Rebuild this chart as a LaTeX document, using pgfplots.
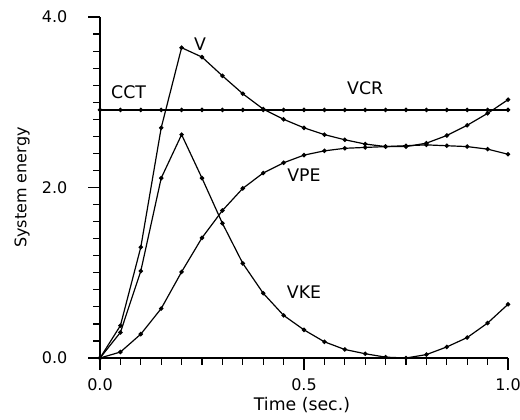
\documentclass[border=0pt]{standalone}
\usepackage{pgfplots}
\pgfplotsset{compat=1.18}
\usepackage{fontspec}
\setmainfont{DejaVu Sans}

\pgfplotsset{ser/.style={black, line width=0.9pt, mark=*, mark size=1.2pt}}

\begin{document}
\begin{tikzpicture}
\path[use as bounding box] (-75pt,-45.75pt) rectangle (315pt,268.5pt);
\begin{axis}[
    at={(0pt,0pt)}, anchor=south west,
    scale only axis,
    width=306pt, height=255.75pt,
    xmin=0, xmax=1, ymin=0, ymax=4,
    axis x line=bottom, axis y line=left,
    axis line style={-, line width=1.1pt},
    xtick={0,0.5,1}, ytick={0,2,4},
    xticklabels={0.0,0.5,1.0}, yticklabels={0.0,2.0,4.0},
    tick align=outside,
    major tick length=9pt,
    tick style={black, line width=0.9pt},
    xticklabel style={font=\fontsize{12}{14}\selectfont, yshift=-3pt},
    yticklabel style={font=\fontsize{12}{14}\selectfont, xshift=-12pt},
    xlabel={Time (sec.)},
    xlabel style={font=\fontsize{13}{15}\selectfont, at={(axis description cs:0.495,-0.137)}, anchor=center},
    ylabel={System energy},
    ylabel style={font=\fontsize{12}{14}\selectfont, at={(axis description cs:-0.191,0.5)}, anchor=center},
    clip=false,
]
% tick marks (major 9pt, minor 5pt)
\pgfplotsinvokeforeach{0,0.5,1}{
  \draw[line width=0.9pt] (axis cs:#1,0) -- ([yshift=-9pt]axis cs:#1,0);}
\pgfplotsinvokeforeach{0.05,0.10,0.15,0.20,0.25,0.30,0.35,0.40,0.45,0.55,0.60,0.65,0.70,0.75,0.80,0.85,0.90,0.95}{
  \draw[line width=0.9pt] (axis cs:#1,0) -- ([yshift=-5pt]axis cs:#1,0);}
\pgfplotsinvokeforeach{0,2,4}{
  \draw[line width=0.9pt] (axis cs:0,#1) -- ([xshift=-9pt]axis cs:0,#1);}
\pgfplotsinvokeforeach{0.2,0.4,0.6,0.8,1.0,1.2,1.4,1.6,1.8,2.2,2.4,2.6,2.8,3.0,3.2,3.4,3.6,3.8}{
  \draw[line width=0.9pt] (axis cs:0,#1) -- ([xshift=-5pt]axis cs:0,#1);}
% VCR
\addplot[ser] coordinates {
(0.00,2.91) (0.05,2.91) (0.10,2.91) (0.15,2.91) (0.20,2.91) (0.25,2.91) (0.30,2.91)
(0.35,2.91) (0.40,2.91) (0.45,2.91) (0.50,2.91) (0.55,2.91) (0.60,2.91) (0.65,2.91)
(0.70,2.91) (0.75,2.91) (0.80,2.91) (0.85,2.91) (0.90,2.91) (0.95,2.91) (1.00,2.91)};
% V
\addplot[ser] coordinates {
(0.00,0.00) (0.05,0.38) (0.10,1.30) (0.15,2.70) (0.20,3.64) (0.25,3.53) (0.30,3.31)
(0.35,3.10) (0.40,2.92) (0.45,2.80) (0.50,2.70) (0.55,2.62) (0.60,2.56) (0.65,2.51)
(0.70,2.48) (0.75,2.48) (0.80,2.52) (0.85,2.61) (0.90,2.73) (0.95,2.87) (1.00,3.03)};
% VPE
\addplot[ser] coordinates {
(0.00,0.00) (0.05,0.07) (0.10,0.28) (0.15,0.58) (0.20,1.01) (0.25,1.41) (0.30,1.73)
(0.35,1.99) (0.40,2.17) (0.45,2.29) (0.50,2.38) (0.55,2.43) (0.60,2.46) (0.65,2.47)
(0.70,2.48) (0.75,2.49) (0.80,2.50) (0.85,2.49) (0.90,2.48) (0.95,2.45) (1.00,2.39)};
% VKE
\addplot[ser] coordinates {
(0.00,0.00) (0.05,0.30) (0.10,1.02) (0.15,2.11) (0.20,2.62) (0.25,2.11) (0.30,1.58)
(0.35,1.11) (0.40,0.76) (0.45,0.50) (0.50,0.33) (0.55,0.19) (0.60,0.10) (0.65,0.05)
(0.70,0.01) (0.75,0.00) (0.80,0.04) (0.85,0.13) (0.90,0.24) (0.95,0.41) (1.00,0.63)};
\node[font=\fontsize{13}{15}\selectfont] at (axis cs:0.245,3.68) {V};
\node[font=\fontsize{13}{15}\selectfont] at (axis cs:0.07,3.12) {CCT};
\node[font=\fontsize{13}{15}\selectfont] at (axis cs:0.65,3.17) {VCR};
\node[font=\fontsize{13}{15}\selectfont] at (axis cs:0.50,2.15) {VPE};
\node[font=\fontsize{13}{15}\selectfont] at (axis cs:0.50,0.77) {VKE};
\end{axis}
\end{tikzpicture}
\end{document}
